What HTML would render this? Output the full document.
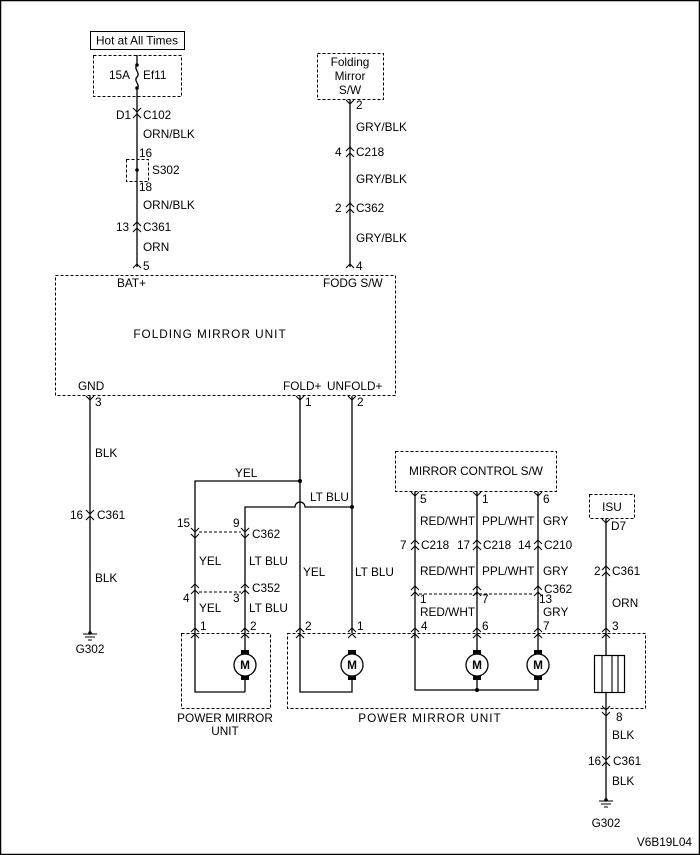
<!DOCTYPE html>
<html><head><meta charset="utf-8"><style>
html,body{margin:0;padding:0;background:#fff}
svg{display:block}
text{font-family:"Liberation Sans",Arial,sans-serif;font-size:11.8px;fill:#000}
.w{stroke:#000;stroke-width:1.3;fill:none}
.d{stroke:#000;stroke-width:1;fill:none;stroke-dasharray:3,2}
.c{stroke:#000;stroke-width:1.1;fill:none}
</style></head><body>
<svg width="700" height="855" viewBox="0 0 700 855" xmlns="http://www.w3.org/2000/svg">
<rect x="0.5" y="0.5" width="699" height="854" fill="none" stroke="#000" stroke-width="1.5"/>

<rect x="90.5" y="31.5" width="94" height="18" fill="none" stroke="#000"/>
<text x="137" y="44.5" text-anchor="middle">Hot at All Times</text>
<rect x="93.5" y="55.5" width="88" height="41" class="d"/>
<text x="109" y="79">15A</text><text x="143" y="79">Ef11</text>
<path class="w" d="M137 55 V65 M137 88 V267"/>
<path class="w" d="M137 65 c-4 4 4 8 0 12 c-4 4 4 8 0 11"/>
<circle cx="137" cy="65" r="1.8"/><circle cx="137" cy="88" r="1.8"/>
<path class="c" d="M133 108 L137 112 L141 108 M133 118 L137 114 L141 118"/>
<text x="116" y="119">D1</text><text x="143" y="119">C102</text>
<text x="143" y="138">ORN/BLK</text>
<text x="139" y="157">16</text>
<rect x="126.5" y="159.5" width="22" height="22" class="d"/>
<circle cx="137" cy="170" r="1.8"/>
<text x="152" y="174">S302</text>
<text x="139" y="191">18</text>
<text x="143" y="209">ORN/BLK</text>
<path class="c" d="M133 226 L137 222 L141 226 M133 232 L137 228 L141 232"/>
<text x="116" y="231">13</text><text x="143" y="231">C361</text>
<text x="143" y="251">ORN</text>
<path class="c" d="M133 268 L137 264 L141 268"/>
<text x="143" y="270">5</text>

<rect x="317.5" y="53.5" width="66" height="46" class="d"/>
<text x="350" y="66" text-anchor="middle">Folding</text>
<text x="350" y="80" text-anchor="middle">Mirror</text>
<text x="350" y="94" text-anchor="middle">S/W</text>
<path class="w" d="M350 100 V267"/>
<path class="c" d="M346 100 L350 104 L354 100"/>
<text x="356" y="109">2</text>
<text x="356" y="131">GRY/BLK</text>
<path class="c" d="M346 151 L350 147 L354 151 M346 157 L350 153 L354 157"/>
<text x="335" y="156">4</text><text x="356" y="156">C218</text>
<text x="356" y="183">GRY/BLK</text>
<path class="c" d="M346 207 L350 203 L354 207 M346 213 L350 209 L354 213"/>
<text x="335" y="212">2</text><text x="356" y="212">C362</text>
<text x="356" y="242">GRY/BLK</text>
<path class="c" d="M346 268 L350 264 L354 268"/>
<text x="356" y="270">4</text>

<rect x="55.5" y="275.5" width="340" height="120" class="d"/>
<text x="117" y="287">BAT+</text>
<text x="323" y="287">FODG S/W</text>
<text x="210" y="338" text-anchor="middle" letter-spacing="1">FOLDING MIRROR UNIT</text>
<text x="78" y="390">GND</text>
<text x="283" y="390">FOLD+</text>
<text x="327" y="390">UNFOLD+</text>

<path class="w" d="M90 396 V633"/>
<path class="c" d="M86 396 L90 400 L94 396"/>
<text x="95" y="406">3</text>
<text x="95" y="457">BLK</text>
<path class="c" d="M86 510 L90 514 L94 510 M86 520 L90 516 L94 520"/>
<text x="70" y="519">16</text><text x="97" y="519">C361</text>
<text x="95" y="582">BLK</text>
<circle cx="90" cy="633" r="1.8"/>
<path class="c" d="M83 634 H97 M85 637 H95 M88 640 H92"/>
<text x="90" y="653" text-anchor="middle">G302</text>

<path class="w" d="M300 396 V502 M300 512 V633 M300 502 V512"/>
<path class="w" d="M352 396 V633"/>
<path class="c" d="M296 396 L300 400 L304 396 M348 396 L352 400 L356 396"/>
<text x="305" y="406">1</text><text x="357" y="406">2</text>
<path class="w" d="M300 481 H195 V528"/>
<circle cx="300" cy="481" r="2"/>
<text x="235" y="477">YEL</text>
<path class="w" d="M352 507 H305 a5 5 0 0 0 -10 0 H245 V528"/>
<circle cx="352" cy="507" r="2"/>
<text x="310" y="501">LT BLU</text>
<text x="303" y="576">YEL</text><text x="355" y="576">LT BLU</text>

<path class="w" d="M195 528 V692 H245 M245 528 V654"/>
<path class="c" d="M191 528 L195 532 L199 528 M241 528 L245 532 L249 528 M191 534 L195 538 L199 534 M241 534 L245 538 L249 534"/>
<path class="d" d="M199 532 H241"/>
<text x="177" y="527">15</text><text x="233" y="527">9</text><text x="252" y="538">C362</text>
<text x="199" y="565">YEL</text><text x="249" y="565">LT BLU</text>
<path class="c" d="M191 588 L195 584 L199 588 M241 588 L245 584 L249 588 M191 594 L195 590 L199 594 M241 594 L245 590 L249 594"/>
<path class="d" d="M199 592 H241"/>
<text x="252" y="592">C352</text>
<text x="183" y="602">4</text><text x="233" y="602">3</text>
<text x="199" y="612">YEL</text><text x="249" y="612">LT BLU</text>
<path class="c" d="M191 632 L195 628 L199 632 M241 632 L245 628 L249 632 M191 638 L195 634 L199 638 M241 638 L245 634 L249 638"/>
<text x="200" y="630">1</text><text x="250" y="630">2</text>
<rect x="181.5" y="633.5" width="89" height="75" class="d"/>

<path class="w" d="M245 676 V692"/>
<rect x="241" y="650" width="8" height="5"/><rect x="241" y="675" width="8" height="5"/>
<circle cx="245" cy="665" r="11" fill="#fff" stroke="#000" stroke-width="1.3"/>
<text x="245" y="669" text-anchor="middle" font-weight="bold">M</text>
<text x="225" y="722" text-anchor="middle">POWER MIRROR</text>
<text x="225" y="735" text-anchor="middle">UNIT</text>

<rect x="287.5" y="633.5" width="358" height="75" class="d"/>
<text x="430" y="722" text-anchor="middle" letter-spacing="1">POWER MIRROR UNIT</text>
<path class="c" d="M296 632 L300 628 L304 632 M348 632 L352 628 L356 632 M296 638 L300 634 L304 638 M348 638 L352 634 L356 638"/>
<text x="305" y="630">2</text><text x="357" y="630">1</text>
<path class="w" d="M300 633 V692 H352 V676"/>
<rect x="348" y="650" width="8" height="5"/><rect x="348" y="675" width="8" height="5"/>
<circle cx="352" cy="665" r="11" fill="#fff" stroke="#000" stroke-width="1.3"/>
<text x="352" y="669" text-anchor="middle" font-weight="bold">M</text>

<rect x="395.5" y="451.5" width="161" height="40" class="d"/>
<text x="476" y="475" text-anchor="middle">MIRROR CONTROL S/W</text>
<path class="w" d="M415 492 V690 H538 V676 M477 492 V654 M538 492 V654"/>
<circle cx="477" cy="690" r="2"/>
<path class="w" d="M477 676 V690"/>
<path class="c" d="M411 492 L415 496 L419 492 M473 492 L477 496 L481 492 M534 492 L538 496 L542 492"/>
<text x="420" y="503">5</text><text x="482" y="503">1</text><text x="543" y="503">6</text>
<text x="420" y="525">RED/WHT</text><text x="482" y="525">PPL/WHT</text><text x="543" y="525">GRY</text>
<path class="c" d="M411 544 L415 540 L419 544 M411 550 L415 546 L419 550 M473 544 L477 540 L481 544 M473 550 L477 546 L481 550 M534 544 L538 540 L542 544 M534 550 L538 546 L542 550"/>
<text x="400" y="549">7</text><text x="421" y="549">C218</text>
<text x="457" y="549">17</text><text x="483" y="549">C218</text>
<text x="518" y="549">14</text><text x="544" y="549">C210</text>
<text x="420" y="575">RED/WHT</text><text x="482" y="575">PPL/WHT</text><text x="543" y="575">GRY</text>
<path class="c" d="M411 590 L415 586 L419 590 M411 596 L415 592 L419 596 M473 590 L477 586 L481 590 M473 596 L477 592 L481 596 M534 590 L538 586 L542 590 M534 596 L538 592 L542 596"/>
<path class="d" d="M419 594 H534"/>
<text x="544" y="593">C362</text>
<text x="420" y="603">1</text><text x="482" y="603">7</text><text x="539" y="603">13</text>
<text x="420" y="616">RED/WHT</text><text x="543" y="616">GRY</text>
<path class="c" d="M411 632 L415 628 L419 632 M411 638 L415 634 L419 638 M473 632 L477 628 L481 632 M473 638 L477 634 L481 638 M534 632 L538 628 L542 632 M534 638 L538 634 L542 638"/>
<text x="421" y="630">4</text><text x="482" y="630">6</text><text x="543" y="630">7</text>
<rect x="473" y="650" width="8" height="5"/><rect x="473" y="675" width="8" height="5"/>
<circle cx="477" cy="665" r="11" fill="#fff" stroke="#000" stroke-width="1.3"/>
<text x="477" y="669" text-anchor="middle" font-weight="bold">M</text>
<rect x="534" y="650" width="8" height="5"/><rect x="534" y="675" width="8" height="5"/>
<circle cx="538" cy="665" r="11" fill="#fff" stroke="#000" stroke-width="1.3"/>
<text x="538" y="669" text-anchor="middle" font-weight="bold">M</text>

<rect x="589.5" y="494.5" width="45" height="24" class="d"/>
<text x="612" y="511" text-anchor="middle">ISU</text>
<path class="w" d="M606 519 V655 M606 692 V800"/>
<path class="c" d="M602 519 L606 523 L610 519"/>
<text x="611" y="530">D7</text>
<path class="c" d="M602 570 L606 566 L610 570 M602 576 L606 572 L610 576"/>
<text x="594" y="575">2</text><text x="612" y="575">C361</text>
<text x="612" y="607">ORN</text>
<path class="c" d="M602 632 L606 628 L610 632 M602 638 L606 634 L610 638"/>
<text x="612" y="630">3</text>
<rect x="594.5" y="655.5" width="30" height="37" fill="#fff" stroke="#000" stroke-width="1.2"/>
<path class="c" d="M602 655 V692 M612 655 V692 M618 655 V692"/>
<path class="c" d="M602 706 L606 710 L610 706 M602 712 L606 716 L610 712"/>
<text x="616" y="721">8</text>
<text x="612" y="739">BLK</text>
<path class="c" d="M602 756 L606 760 L610 756 M602 766 L606 762 L610 766"/>
<text x="588" y="765">16</text><text x="613" y="765">C361</text>
<text x="612" y="785">BLK</text>
<circle cx="606" cy="800" r="1.8"/>
<path class="c" d="M599 801 H613 M601 804 H611 M604 807 H608"/>
<text x="606" y="827" text-anchor="middle">G302</text>
<text x="692" y="846" font-size="9" text-anchor="end">V6B19L04</text>
</svg>
</body></html>
